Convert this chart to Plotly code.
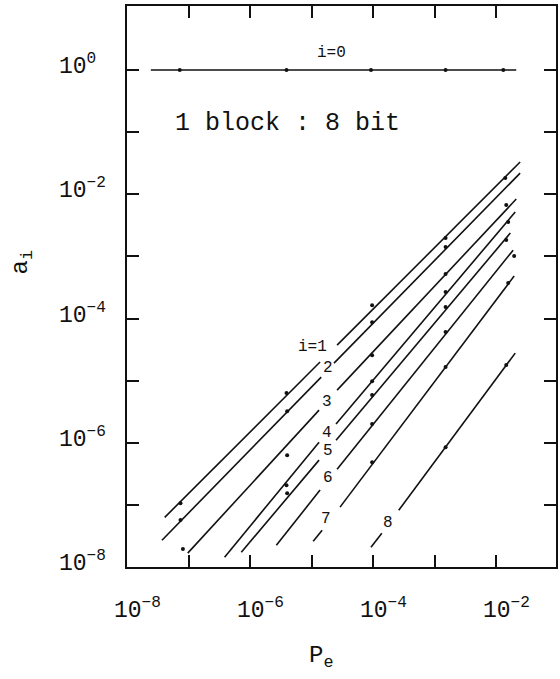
import numpy as np
import plotly.graph_objects as go

# Error-pattern coefficients a_i versus bit error probability Pe (1 block : 8 bit)
orders = [1, 2, 3, 4, 5, 6, 7, 8]

# Horizontal reference line i = 0
zero_pe = [2.44e-8, 2.11e-2]
zero_a = [1.0, 1.0]
zero_mk_pe = [7.2e-8, 3.9e-6, 9.2e-5, 1.5e-3, 1.3e-2]
zero_mk_a = [1.0, 1.0, 1.0, 1.0, 1.0]

# Each fitted line is broken where its label sits: part below the label ...
lo_pe = [
    [4.1e-8, 1.37e-5],
    [3.7e-8, 1.43e-5],
    [9.7e-8, 1.32e-5],
    [3.85e-7, 1.32e-5],
    [7.2e-7, 1.32e-5],
    [2.67e-6, 1.37e-5],
    [1.06e-5, 1.48e-5],
    [9.2e-5, 1.38e-4],
]
lo_a = [
    [6.3e-8, 1.99e-5],
    [2.7e-8, 1.14e-5],
    [1.67e-8, 3.35e-6],
    [1.44e-8, 1.02e-6],
    [1.73e-8, 5.25e-7],
    [2.24e-8, 1.73e-7],
    [2.6e-8, 3.9e-8],
    [2.08e-8, 3.5e-8],
]
# ... and part above the label
hi_pe = [
    [2.59e-5, 2.44e-2],
    [2.31e-5, 2.44e-2],
    [2.59e-5, 2.11e-2],
    [2.49e-5, 2.03e-2],
    [2.49e-5, 1.69e-2],
    [2.59e-5, 1.88e-2],
    [2.89e-5, 1.95e-2],
    [2.6e-4, 2.03e-2],
]
hi_a = [
    [3.73e-5, 3.3e-2],
    [1.91e-5, 2.19e-2],
    [7.03e-6, 8.37e-3],
    [2.0e-6, 5.17e-3],
    [1.10e-6, 2.37e-3],
    [3.76e-7, 1.26e-3],
    [9.2e-8, 4.82e-4],
    [8.2e-8, 2.77e-5],
]

# Measured points
mk_pe = [
    [7.4e-8, 3.9e-6, 9.6e-5, 1.5e-3, 1.4e-2],
    [7.4e-8, 4.0e-6, 9.6e-5, 1.5e-3],
    [8.1e-8, 4.0e-6, 9.6e-5, 1.5e-3, 1.45e-2],
    [3.9e-6, 9.6e-5, 1.5e-3, 1.56e-2],
    [4.0e-6, 9.6e-5, 1.5e-3, 1.45e-2],
    [9.6e-5, 1.5e-3, 1.95e-2],
    [9.6e-5, 1.5e-3, 1.56e-2],
    [1.5e-3, 1.45e-2],
]
mk_a = [
    [1.06e-7, 6.3e-6, 1.64e-4, 1.97e-3, 1.82e-2],
    [5.7e-8, 3.2e-6, 8.7e-5, 1.41e-3],
    [1.94e-8, 6.3e-7, 2.57e-5, 5.19e-4, 6.7e-3],
    [2.07e-7, 9.8e-6, 2.66e-4, 3.57e-3],
    [1.54e-7, 5.85e-6, 1.53e-4, 1.83e-3],
    [2.0e-6, 6.04e-5, 1.01e-3],
    [4.87e-7, 1.65e-5, 3.72e-4],
    [8.5e-7, 1.78e-5],
]

# Curve labels
label_text = ["i=0", "i=1", "2", "3", "4", "5", "6", "7", "8"]
label_pe = [2.07e-5, 1.02e-5, 1.85e-5, 1.8e-5, 1.8e-5, 1.85e-5, 1.85e-5, 1.72e-5, 1.73e-4]
label_a = [1.88, 3.46e-5, 1.59e-5, 4.5e-6, 1.43e-6, 7.3e-7, 2.69e-7, 5.9e-8, 5.1e-8]

# Decade tick labels
x_label_vals = [1e-8, 1e-6, 1e-4, 1e-2]
x_label_text = ["10<sup>\u22128</sup>", "10<sup>\u22126</sup>", "10<sup>\u22124</sup>", "10<sup>\u22122</sup>"]
y_label_vals = [1e0, 1e-2, 1e-4, 1e-6, 1e-8]
y_label_text = ["10<sup>0</sup>", "10<sup>\u22122</sup>", "10<sup>\u22124</sup>",
                "10<sup>\u22126</sup>", "10<sup>\u22128</sup>"]

FONT = "Liberation Mono, Courier New, monospace"
INK = "#111111"

fig = go.Figure()

fig.add_trace(go.Scatter(x=zero_pe, y=zero_a, mode="lines",
                         line=dict(color=INK, width=1.6), showlegend=False))
fig.add_trace(go.Scatter(x=zero_mk_pe, y=zero_mk_a, mode="markers",
                         marker=dict(color=INK, size=4), showlegend=False))

for k, i in enumerate(orders):
    xs = list(lo_pe[k]) + [None] + list(hi_pe[k])
    ys = list(lo_a[k]) + [None] + list(hi_a[k])
    fig.add_trace(go.Scatter(x=xs, y=ys, mode="lines", name=f"i={i}",
                             line=dict(color=INK, width=1.6),
                             connectgaps=False, showlegend=False))
    fig.add_trace(go.Scatter(x=mk_pe[k], y=mk_a[k], mode="markers",
                             marker=dict(color=INK, size=4), showlegend=False))

for t, px, py in zip(label_text, label_pe, label_a):
    fig.add_annotation(x=np.log10(px), y=np.log10(py), text=t, showarrow=False,
                       xanchor="center", yanchor="middle",
                       font=dict(family=FONT, size=16, color=INK))

fig.add_annotation(x=np.log10(5.5e-8), y=np.log10(0.14), text="1 block : 8 bit",
                   showarrow=False, xanchor="left", yanchor="middle",
                   font=dict(family=FONT, size=25, color=INK))

for v, t in zip(x_label_vals, x_label_text):
    fig.add_annotation(x=np.log10(v), y=0, xref="x", yref="paper", text=t,
                       showarrow=False, xanchor="left", yanchor="top",
                       xshift=-15, yshift=-25,
                       font=dict(family=FONT, size=23, color=INK))

for v, t in zip(y_label_vals, y_label_text):
    fig.add_annotation(x=0, y=np.log10(v), xref="paper", yref="y", text=t,
                       showarrow=False, xanchor="left", yanchor="middle",
                       xshift=-70, yshift=5,
                       font=dict(family=FONT, size=23, color=INK))

fig.add_annotation(x=0, y=np.log10(8e-4), xref="paper", yref="y",
                   text="a<sub>i</sub>", showarrow=False, textangle=-90,
                   xanchor="center", yanchor="middle", xshift=-105,
                   font=dict(family=FONT, size=24, color=INK))
fig.add_annotation(x=np.log10(1.4e-5), y=0, xref="x", yref="paper",
                   text="P<sub>e</sub>", showarrow=False,
                   xanchor="center", yanchor="middle", yshift=-90,
                   font=dict(family=FONT, size=24, color=INK))

axis_common = dict(type="log", showgrid=False, zeroline=False,
                   showline=True, linecolor=INK, linewidth=2,
                   mirror="ticks", ticks="inside", ticklen=12, tickwidth=1.5,
                   tickcolor=INK, showticklabels=False)

fig.update_xaxes(range=[-8, -1.03],
                 tickvals=[1e-8, 1e-7, 1e-6, 1e-5, 1e-4, 1e-3, 1e-2],
                 **axis_common)
fig.update_yaxes(range=[-8, 1.03],
                 tickvals=[1e-8, 1e-7, 1e-6, 1e-5, 1e-4, 1e-3, 1e-2, 1e-1, 1e0],
                 **axis_common)

fig.update_layout(width=560, height=679,
                  margin=dict(l=127, r=2, t=6, b=112),
                  paper_bgcolor="white", plot_bgcolor="white",
                  showlegend=False)

fig.write_html("out.html")
